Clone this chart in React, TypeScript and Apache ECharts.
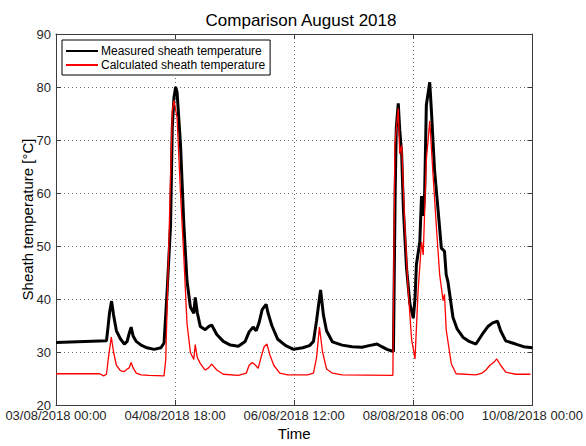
import React, { useEffect, useRef } from "react";
import * as echarts from "echarts";

// hours since 03/08/2018 00:00
const measuredHours = [0, 17.8, 18.2, 18.9, 19.6, 20.3, 21.3, 22.7, 24.1, 25.1, 25.8, 26.5, 27.2, 28.3, 30.0, 32.1, 34.6, 37.0, 38.1, 39.2, 40.4, 41.0, 41.6, 42.2, 42.7, 43.9, 45.1, 46.2, 47.4, 48.6, 49.1, 49.8, 50.9, 52.6, 53.8, 54.9, 56.7, 59.0, 61.5, 64.3, 66.7, 68.1, 69.5, 70.6, 71.6, 72.7, 74.1, 74.7, 76.1, 78.2, 81.0, 83.8, 87.0, 89.4, 90.8, 91.9, 93.3, 94.3, 95.4, 97.5, 100.9, 104.4, 107.9, 110.4, 113.2, 114.9, 116.7, 119.0, 119.6, 120.0, 120.7, 121.2, 121.9, 122.5, 123.6, 124.8, 126.0, 126.6, 127.1, 128.3, 128.9, 129.5, 130.0, 130.6, 131.8, 132.4, 133.5, 134.7, 135.9, 137.0, 137.6, 138.2, 140.0, 141.5, 143.5, 145.7, 148.1, 150.4, 152.3, 154.0, 155.7, 156.8, 158.6, 162.1, 164.9, 168.0];
const measuredTemp = [31.8, 32.1, 34, 37.5, 39.6, 37, 34, 32.5, 31.5, 32, 33.5, 34.7, 33, 32, 31.3, 30.8, 30.5, 30.8, 31.7, 41.6, 53.9, 72.3, 78, 80, 79, 69.2, 53.9, 43.4, 38.5, 37.3, 40.3, 37.5, 34.8, 34.2, 34.8, 35.1, 33.3, 32, 31.3, 31.1, 32, 33.8, 34.7, 34, 35.5, 38, 39, 37.5, 35, 32.4, 31.2, 30.5, 30.8, 31.2, 32, 36, 41.7, 37, 34, 31.9, 31.3, 31, 30.9, 31.2, 31.5, 31, 30.5, 30.1, 60, 72.3, 76.9, 72, 67.4, 57, 45.9, 39.1, 36.4, 40, 46.5, 50.8, 59.4, 55.7, 60, 76.6, 80.9, 75.4, 64.3, 57, 49.6, 49, 44.6, 43.3, 36.5, 34.3, 32.8, 32, 31.5, 33.4, 34.8, 35.5, 35.8, 34, 32.1, 31.5, 31, 30.8];

const calcHours = [0, 15.4, 16.8, 17.8, 18.5, 19.5, 20.3, 21.3, 22.7, 24.1, 25.1, 25.8, 26.5, 27.2, 28.3, 30.0, 32.8, 38.1, 38.7, 39.8, 41.0, 41.6, 42.7, 43.9, 45.1, 46.2, 47.4, 48.6, 49.1, 49.8, 50.9, 52.6, 53.8, 54.9, 56.7, 59.0, 64.3, 67.1, 68.1, 69.2, 70.2, 71.3, 72.3, 73.4, 74.4, 75.4, 76.8, 78.9, 81.7, 88.7, 90.8, 91.9, 92.9, 94.0, 95.4, 97.5, 100.9, 118.8, 119.5, 120.7, 121.2, 121.9, 123.0, 124.2, 125.4, 126.6, 127.7, 128.9, 129.5, 130.6, 131.8, 133.0, 134.1, 135.3, 136.5, 137.0, 137.6, 139.4, 141.1, 148.1, 150.2, 151.6, 153.0, 154.5, 155.4, 156.8, 158.6, 162.1, 167.3];
const calcTemp = [25.9, 25.9, 25.5, 25.8, 29, 32.8, 30, 27.5, 26.5, 26.3, 26.8, 27, 28, 27, 26, 25.7, 25.6, 25.5, 28.6, 50.8, 75.4, 77.5, 74.2, 60, 47.7, 35.4, 29.9, 28.6, 31.4, 29, 27.8, 26.6, 27, 27.7, 26.6, 25.8, 25.6, 26, 27.5, 28, 27.6, 26.9, 29, 31, 31.5, 29.5, 27.5, 26, 25.7, 25.7, 26, 29, 34.7, 30, 26.8, 26, 25.7, 25.6, 69.2, 76, 67.4, 69, 53.9, 41.6, 32.4, 28.7, 41.6, 50.8, 48.3, 66.2, 73.6, 63.1, 53.9, 44.6, 39.7, 40.9, 34.2, 27.8, 25.9, 25.7, 26, 26.6, 27.5, 28.1, 28.7, 27.5, 26.2, 25.8, 25.8];

const seriesNames = ["Measured sheath temperature", "Calculated sheath temperature"];
const seriesColors = ["#000000", "#ff0000"];
const xTickHours = [0, 42, 84, 126, 168];
const yTicks = [20, 30, 40, 50, 60, 70, 80, 90];

const pad = (n: number) => (n < 10 ? "0" + n : "" + n);
function fmtHour(h: number): string {
  const start = Date.UTC(2018, 7, 3, 0, 0);
  const d = new Date(start + h * 3600 * 1000);
  return `${pad(d.getUTCDate())}/${pad(d.getUTCMonth() + 1)}/${d.getUTCFullYear()} ${pad(d.getUTCHours())}:${pad(d.getUTCMinutes())}`;
}

const FONT = "Liberation Sans, Arial, sans-serif";
const AXIS_COLOR = "#3c3c3c";

export default function App() {
  const ref = useRef<HTMLDivElement>(null);
  useEffect(() => {
    document.body.style.margin = "0";
    const chart = echarts.init(ref.current!, null, { renderer: "svg" });
    const zip = (xs: number[], ys: number[]) => xs.map((x, i) => [x, ys[i]]);
    const xMin = xTickHours[0];
    const xMax = xTickHours[xTickHours.length - 1];
    const xInt = xTickHours[1] - xTickHours[0];
    const yMin = yTicks[0];
    const yMax = yTicks[yTicks.length - 1];
    const yInt = yTicks[1] - yTicks[0];
    const tick = { show: true, inside: true, length: 5, lineStyle: { color: AXIS_COLOR } };
    const line = { show: true, onZero: false, lineStyle: { color: AXIS_COLOR, width: 1 } };
    const grid = { show: true, lineStyle: { color: "#6a6a6a", type: [1, 3], width: 1 } };
    chart.setOption({
      animation: false,
      backgroundColor: "#ffffff",
      title: {
        text: "Comparison August 2018",
        left: 296,
        textAlign: "center",
        top: 7,
        textStyle: { fontFamily: FONT, fontSize: 17, fontWeight: "normal", color: "#000" },
      },
      grid: { left: 56, right: 49, top: 34, bottom: 33, containLabel: false },
      legend: {
        data: seriesNames.map((n, i) => ({ name: n, icon: "rect", itemStyle: { color: seriesColors[i] } })),
        orient: "vertical",
        left: 62,
        top: 40,
        padding: [5, 5, 4, 4],
        itemGap: 2,
        itemWidth: 32,
        itemHeight: 2,
        borderColor: "#000",
        borderWidth: 1,
        backgroundColor: "#fff",
        textStyle: { fontFamily: FONT, fontSize: 12, color: "#000", padding: [0, 0, 0, -2] },
      },
      xAxis: [
        {
          type: "value",
          min: xMin,
          max: xMax,
          interval: xInt,
          name: "Time",
          nameLocation: "middle",
          nameGap: 21,
          nameMoveOverlap: false,
          nameTextStyle: { fontFamily: FONT, fontSize: 15, color: "#000" },
          axisLine: line,
          axisTick: tick,
          axisLabel: { fontFamily: FONT, fontSize: 13, color: "#262626", margin: 4, formatter: (v: number) => fmtHour(v) },
          splitLine: grid,
        },
        {
          type: "value",
          position: "top",
          min: xMin,
          max: xMax,
          interval: xInt,
          axisLine: line,
          axisTick: tick,
          axisLabel: { show: false },
          splitLine: { show: false },
        },
      ],
      yAxis: [
        {
          type: "value",
          min: yMin,
          max: yMax,
          interval: yInt,
          name: "Sheath temperature [°C]",
          nameLocation: "middle",
          nameGap: 21,
          nameMoveOverlap: false,
          nameTextStyle: { fontFamily: FONT, fontSize: 15, color: "#000" },
          axisLine: line,
          axisTick: tick,
          axisLabel: { fontFamily: FONT, fontSize: 13, color: "#262626", margin: 5 },
          splitLine: grid,
        },
        {
          type: "value",
          position: "right",
          min: yMin,
          max: yMax,
          interval: yInt,
          axisLine: line,
          axisTick: tick,
          axisLabel: { show: false },
          splitLine: { show: false },
        },
      ],
      series: [
        {
          name: seriesNames[0],
          type: "line",
          symbol: "none",
          data: zip(measuredHours, measuredTemp),
          lineStyle: { color: seriesColors[0], width: 3 },
          itemStyle: { color: seriesColors[0] },
        },
        {
          name: seriesNames[1],
          type: "line",
          symbol: "none",
          data: zip(calcHours, calcTemp),
          lineStyle: { color: seriesColors[1], width: 1.3 },
          itemStyle: { color: seriesColors[1] },
        },
      ],
    });
    return () => chart.dispose();
  }, []);
  return <div ref={ref} style={{ width: 586, height: 446 }} />;
}
